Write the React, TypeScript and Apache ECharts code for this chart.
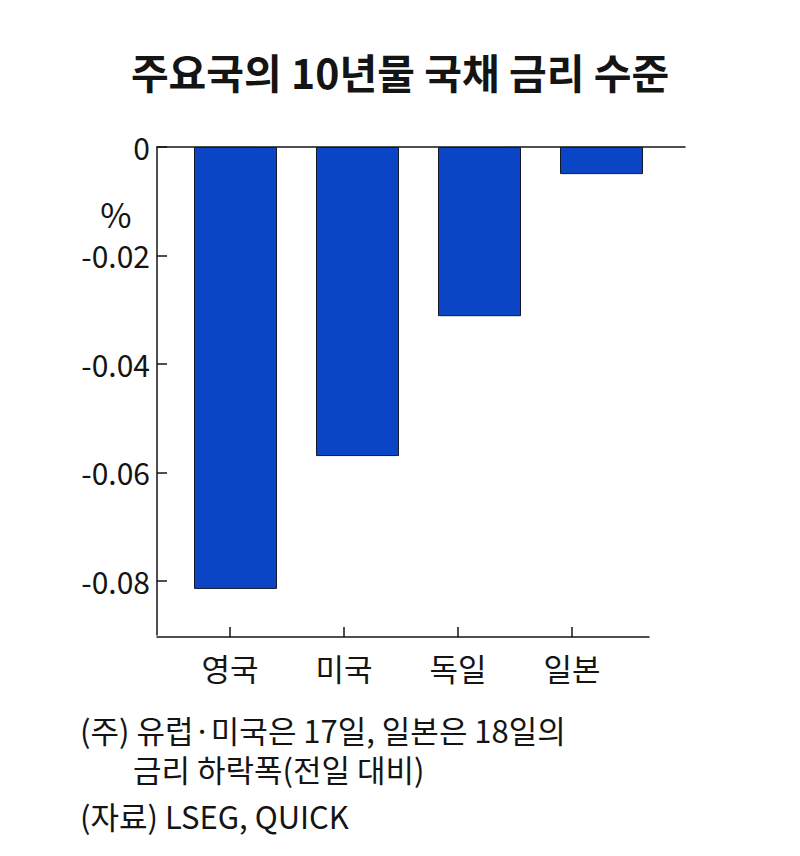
import { useEffect, useRef } from 'react'
import * as echarts from 'echarts'

const categories = ['영국', '미국', '독일', '일본']
const values = [-0.0815, -0.057, -0.0312, -0.005]
const yTicks = [0, -0.02, -0.04, -0.06, -0.08]

const titleText = '주요국의 10년물 국채 금리 수준'
const noteLines = ['(주) 유럽·미국은 17일, 일본은 18일의', '금리 하락폭(전일 대비)']
const sourceText = '(자료) LSEG, QUICK'

const FONT = '"Noto Sans CJK KR", "Noto Sans", sans-serif'
const INK = '#141414'

export default function App() {
  const chartRef = useRef<HTMLDivElement | null>(null)

  useEffect(() => {
    if (!chartRef.current) {
      return
    }

    const chart = echarts.init(chartRef.current, null, { renderer: 'svg' })

    const plotTop = 147
    const plotHeight = 488

    const noteStyle = (text: string) => ({
      text,
      fill: INK,
      font: `31px ${FONT}`,
      lineHeight: 33,
      align: 'left',
      verticalAlign: 'middle',
    })

    chart.setOption({
      animation: false,
      backgroundColor: '#ffffff',
      textStyle: { fontFamily: FONT },
      grid: [
        // frame: y axis + zero line
        { left: 157, top: plotTop, width: 528, height: plotHeight },
        // bottom axis line
        { left: 157, top: plotTop, width: 492, height: plotHeight + 2 },
        // category labels + ticks
        { left: 173, top: plotTop, width: 456, height: plotHeight + 2 },
        // bars
        { left: 174.5, top: plotTop, width: 488, height: plotHeight },
      ],
      xAxis: [
        {
          gridIndex: 0,
          type: 'value',
          position: 'top',
          axisLine: { show: true, onZero: false, lineStyle: { color: INK, width: 1.5 } },
          axisTick: { show: false },
          axisLabel: { show: false },
          splitLine: { show: false },
        },
        {
          gridIndex: 1,
          type: 'value',
          position: 'bottom',
          axisLine: { show: true, onZero: false, lineStyle: { color: INK, width: 1.5 } },
          axisTick: { show: false },
          axisLabel: { show: false },
          splitLine: { show: false },
        },
        {
          gridIndex: 2,
          type: 'category',
          data: categories,
          position: 'bottom',
          axisLine: { show: false, onZero: false },
          axisTick: {
            show: true,
            alignWithLabel: true,
            inside: true,
            length: 10,
            lineStyle: { color: INK, width: 1.5 },
          },
          axisLabel: {
            color: INK,
            fontSize: 31,
            fontFamily: FONT,
            margin: 15,
          },
        },
        {
          gridIndex: 3,
          type: 'category',
          data: categories,
          show: false,
        },
      ],
      yAxis: [
        {
          gridIndex: 0,
          type: 'value',
          min: -0.09,
          max: 0,
          axisLine: { show: true, lineStyle: { color: INK, width: 1.5 } },
          axisTick: {
            show: true,
            inside: true,
            length: 10,
            customValues: yTicks,
            lineStyle: { color: INK, width: 1.5 },
          },
          axisLabel: {
            customValues: yTicks,
            color: INK,
            fontSize: 30,
            lineHeight: 30,
            fontFamily: FONT,
            margin: 7,
            formatter: (v: number) => (v === 0 ? '0' : v.toFixed(2)),
          },
          splitLine: { show: false },
        },
        { gridIndex: 1, type: 'value', min: -0.09, max: 0, show: false },
        { gridIndex: 2, type: 'value', min: -0.09, max: 0, show: false },
        { gridIndex: 3, type: 'value', min: -0.09, max: 0, show: false },
      ],
      series: [
        {
          type: 'bar',
          xAxisIndex: 3,
          yAxisIndex: 3,
          data: values,
          barWidth: 83,
          itemStyle: {
            color: '#0a45c6',
            borderColor: '#16182a',
            borderWidth: 1,
          },
        },
      ],
      graphic: [
        {
          type: 'text',
          x: 400,
          y: 71,
          style: {
            text: titleText,
            fill: INK,
            font: `bold 41px ${FONT}`,
            align: 'center',
            verticalAlign: 'middle',
          },
        },
        {
          type: 'text',
          x: 116,
          y: 213,
          style: {
            text: '%',
            fill: INK,
            font: `34px ${FONT}`,
            lineHeight: 28,
            align: 'center',
            verticalAlign: 'middle',
          },
        },
        { type: 'text', x: 80, y: 729, style: noteStyle(noteLines[0]) },
        { type: 'text', x: 133, y: 768, style: noteStyle(noteLines[1]) },
        { type: 'text', x: 80, y: 815, style: noteStyle(sourceText) },
      ],
    })

    return () => {
      chart.dispose()
    }
  }, [])

  return (
    <div
      ref={chartRef}
      style={{ position: 'fixed', left: 0, top: 0, width: 800, height: 856 }}
    />
  )
}
